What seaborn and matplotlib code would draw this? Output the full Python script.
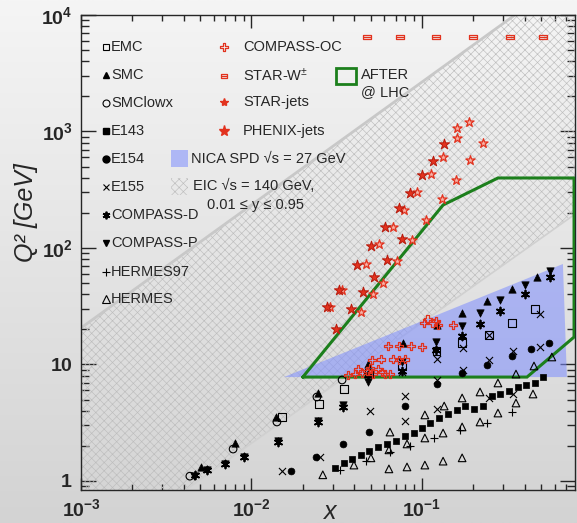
import numpy as np
import matplotlib
matplotlib.use("Agg")
import matplotlib.pyplot as plt
import seaborn as sns
from matplotlib.patches import Polygon, Rectangle
from matplotlib.path import Path
from matplotlib.colors import LinearSegmentedColormap
from matplotlib.ticker import LogLocator, FuncFormatter, NullFormatter

# ---------------- kinematic coverage data (x, Q^2 in GeV^2) ----------------
emc_x = [0.0151, 0.0249, 0.0349, 0.0489, 0.0764, 0.122, 0.172, 0.247, 0.337, 0.461]
emc_q2 = [3.54, 4.58, 6.16, 8.46, 9.71, 13.1, 15.3, 17.9, 22.7, 29.9]

smc_x = [0.00506, 0.00800, 0.0139, 0.0245, 0.0482, 0.0777, 0.122, 0.172, 0.240, 0.337, 0.472]
smc_q2 = [1.32, 2.12, 3.54, 5.69, 10.1, 15.3, 21.8, 27.7, 35.1, 44.5, 56.4]

smclowx_x = [0.00435, 0.00780, 0.0141, 0.0242, 0.0340]
smclowx_q2 = [1.10, 1.88, 3.21, 5.26, 7.36]

e143_x = [0.0309, 0.0349, 0.0388, 0.0438, 0.0489, 0.0552, 0.0624, 0.0705, 0.0794,
          0.0897, 0.100, 0.111, 0.126, 0.142, 0.160, 0.179, 0.202, 0.228, 0.258,
          0.287, 0.324, 0.366, 0.407, 0.461, 0.513]
e143_q2 = [1.29, 1.43, 1.55, 1.67, 1.81, 1.96, 2.08, 2.20, 2.43, 2.58, 2.85, 3.15,
           3.47, 3.76, 4.07, 4.40, 4.15, 4.40, 5.37, 5.58, 5.92, 6.41, 6.67, 6.94, 7.81]

e154_x = [0.0171, 0.0239, 0.0344, 0.0489, 0.0794, 0.122, 0.172, 0.240, 0.337, 0.436, 0.556]
e154_q2 = [1.22, 1.61, 2.08, 2.63, 4.40, 6.80, 8.46, 9.91, 11.8, 13.6, 15.3]

e155_x = [0.0151, 0.0252, 0.0495, 0.0794, 0.0794, 0.122, 0.122, 0.122, 0.175, 0.175,
          0.247, 0.247, 0.247, 0.342, 0.342, 0.492, 0.492, 0.0764]
e155_q2 = [1.22, 1.61, 3.99, 5.37, 3.27, 4.15, 7.36, 11.1, 8.97, 13.9,
           5.16, 10.9, 17.9, 5.58, 13.1, 14.1, 27.1, 8.62]

compass_d_x = [0.00466, 0.00548, 0.00700, 0.00904, 0.0143, 0.0245, 0.0344, 0.0482,
               0.0764, 0.121, 0.172, 0.219, 0.287, 0.402, 0.562]
compass_d_q2 = [1.13, 1.24, 1.40, 1.61, 2.16, 3.21, 4.32, 8.12, 8.80, 13.3, 17.6,
                22.3, 28.8, 40.3, 56.4]

compass_p_x = [0.00460, 0.00548, 0.00700, 0.00904, 0.0143, 0.0245, 0.0344, 0.0482,
               0.0764, 0.121, 0.172, 0.219, 0.287, 0.402, 0.562]
compass_p_q2 = [1.10, 1.24, 1.40, 1.61, 2.20, 3.27, 4.49, 7.08, 10.5, 15.6, 21.4,
                27.7, 35.8, 48.1, 63.5]

hermes97_x = [0.0330, 0.0470, 0.0649, 0.0851, 0.117, 0.167, 0.240, 0.337]
hermes97_q2 = [1.24, 1.48, 1.77, 2.00, 2.34, 2.74, 3.15, 3.91]

hermes_x = [0.0262, 0.0399, 0.0502, 0.0640, 0.0640, 0.0649, 0.0817, 0.0817, 0.104,
            0.104, 0.104, 0.133, 0.133, 0.135, 0.172, 0.172, 0.172, 0.219, 0.219,
            0.279, 0.279, 0.356, 0.356, 0.448, 0.454, 0.578]
hermes_q2 = [1.13, 1.37, 1.58, 1.27, 1.85, 2.63, 1.32, 2.08, 1.37, 2.34, 3.69, 1.48,
             2.58, 4.40, 1.58, 2.91, 5.16, 3.21, 5.81, 3.83, 6.94, 4.67, 8.28, 5.58,
             9.71, 11.6]

compass_oc_x = [0.0368, 0.0405, 0.0421, 0.0445, 0.0476, 0.0495, 0.0516, 0.0552, 0.0582,
                0.0607, 0.0649, 0.0509, 0.0575, 0.0676, 0.0733, 0.0794, 0.0632, 0.0733,
                0.0861, 0.100, 0.103, 0.108, 0.115, 0.121, 0.124, 0.152]
compass_oc_q2 = [8.12, 8.29, 9.15, 8.46, 8.80, 9.33, 8.29, 9.15, 8.62, 8.29, 8.29, 10.9,
                 11.1, 11.1, 10.9, 11.1, 14.4, 14.4, 14.4, 14.1, 22.7, 24.6, 22.7, 23.6,
                 21.8, 21.8]

star_w_x = [0.0475, 0.0743, 0.121, 0.199, 0.328, 0.513]
star_w_q2 = [6464, 6464, 6464, 6464, 6464, 6464]

star_jets_x = [0.116, 0.100, 0.0851, 0.0733, 0.0607, 0.0763, 0.0502, 0.0624, 0.0416,
               0.0523, 0.0326, 0.0451, 0.0277, 0.0384, 0.0313, 0.135]
star_jets_q2 = [558, 423, 297, 220, 151, 119, 104, 78.9, 71.5, 56.4, 43.6, 41.9, 31.2,
                29.9, 20.2, 781]

phenix_jets_x = [0.189, 0.160, 0.160, 0.228, 0.133, 0.191, 0.113, 0.158, 0.0935, 0.131,
                 0.0784, 0.106, 0.0676, 0.0873, 0.0560, 0.0713, 0.0470, 0.0591, 0.0516,
                 0.0439, 0.0340, 0.0289]
phenix_jets_q2 = [1207, 1072, 880, 797, 604, 569, 432, 383, 303, 263, 212, 174, 151, 117,
                  108, 77.3, 72.9, 50.1, 40.3, 28.2, 43.6, 31.2]

# EIC band (sqrt(s)=140 GeV, 0.01 <= y <= 0.95): edges in (x, Q^2)
eic_upper_x = [1e-3, 0.351]
eic_upper_q2 = [20.6, 1e4]
eic_lower_x = [0.0041, 0.79]
eic_lower_q2 = [0.837, 195]

# NICA SPD (sqrt(s)=27 GeV) coverage
nica_x = [0.0155, 0.671, 0.708]
nica_q2 = [7.8, 72.9, 7.8]

# AFTER@LHC coverage
after_x = [0.0200, 0.133, 0.279, 0.78, 0.78, 0.413, 0.0200]
after_q2 = [7.8, 234, 399, 399, 17.2, 7.8, 7.8]

x_range = (1e-3, 0.79)
q2_range = (0.837, 1e4)

# ---------------- style ----------------
sns.set_style("ticks")
plt.rcParams["font.family"] = ["Liberation Sans", "DejaVu Sans"]
plt.rcParams["mathtext.fontset"] = "custom"
plt.rcParams["mathtext.rm"] = "Liberation Sans"
plt.rcParams["mathtext.it"] = "Liberation Sans:italic"
plt.rcParams["mathtext.bf"] = "Liberation Sans:bold"
plt.rcParams["hatch.linewidth"] = 0.45
plt.rcParams["axes.linewidth"] = 1.0

RED = "#e2321e"
GREEN = "#1c7f1c"
HATCH_GRAY = "#bdbdbd"

fig = plt.figure(figsize=(5.77, 5.23), dpi=100)

# soft grey gradient behind everything
bg = fig.add_axes([0, 0, 1, 1], zorder=-10)
grad = np.linspace(0, 1, 256).reshape(-1, 1)
bg_cmap = LinearSegmentedColormap.from_list("bg", ["#f5f5f5", "#d3d3d3"])
bg.imshow(grad, aspect="auto", cmap=bg_cmap, extent=[0, 1, 0, 1], origin="upper")
bg.set_axis_off()

ax = fig.add_axes([81 / 577, 1 - 490 / 523, 494 / 577, 475 / 523])
ax.set_facecolor("none")
ax.set_xscale("log")
ax.set_yscale("log")
ax.set_xlim(*x_range)
ax.set_ylim(*q2_range)

# EIC hatched band
band = Polygon(
    [(x_range[0], q2_range[0]), (eic_upper_x[0], eic_upper_q2[0]),
     (eic_upper_x[1], eic_upper_q2[1]), (x_range[1], q2_range[1]),
     (eic_lower_x[1], eic_lower_q2[1]), (eic_lower_x[0], eic_lower_q2[0])],
    closed=True, facecolor="none", edgecolor=HATCH_GRAY, hatch="xxxx",
    linewidth=0, zorder=1)
ax.add_patch(band)
ax.plot(eic_upper_x, eic_upper_q2, color="#c8c8c8", lw=2.0, zorder=1.1)
ax.plot(eic_lower_x, eic_lower_q2, color="#d0d0d0", lw=1.2, zorder=1.1)

# NICA SPD region
ax.add_patch(Polygon(list(zip(nica_x, nica_q2)), closed=True, facecolor="#7d8dff",
                     alpha=0.55, linewidth=0, zorder=2))

# AFTER@LHC outline
ax.plot(after_x, after_q2, color=GREEN, lw=2.2, zorder=3, solid_joinstyle="miter")

# custom markers
oc = 0.33
open_cross = Path([(-oc, 1), (oc, 1), (oc, oc), (1, oc), (1, -oc), (oc, -oc), (oc, -1),
                   (-oc, -1), (-oc, -oc), (-1, -oc), (-1, oc), (-oc, oc), (-oc, 1)])
w_box = Path([(-1, -0.6), (1, -0.6), (1, 0.6), (-1, 0.6), (-1, -0.6), (-1, 0.0), (1, 0.0)],
             [Path.MOVETO, Path.LINETO, Path.LINETO, Path.LINETO, Path.CLOSEPOLY,
              Path.MOVETO, Path.LINETO])
asterisk = (6, 2, 0)


def pts(xs, ys, **kw):
    sns.scatterplot(x=xs, y=ys, ax=ax, legend=False, **kw)


# fixed-target DIS experiments
pts(e143_x, e143_q2, marker="s", s=24, color="black", edgecolor="black", linewidth=0.5, zorder=5)
pts(hermes_x, hermes_q2, marker="^", s=30, facecolor="none", edgecolor="black", linewidth=0.8, zorder=5)
pts(hermes97_x, hermes97_q2, marker="+", s=30, color="black", linewidth=0.8, zorder=5)
pts(e155_x, e155_q2, marker="x", s=26, color="black", linewidth=0.8, zorder=5)
pts(e154_x, e154_q2, marker="o", s=24, color="black", edgecolor="black", linewidth=0.5, zorder=5)
pts(emc_x, emc_q2, marker="s", s=30, facecolor="none", edgecolor="black", linewidth=0.8, zorder=5)
pts(smclowx_x, smclowx_q2, marker="o", s=30, facecolor="none", edgecolor="black", linewidth=0.8, zorder=5)
pts(smc_x, smc_q2, marker="^", s=28, color="black", edgecolor="black", linewidth=0.5, zorder=5)
pts(compass_p_x, compass_p_q2, marker="v", s=28, color="black", edgecolor="black", linewidth=0.5, zorder=5)
pts(compass_d_x, compass_d_q2, marker=asterisk, s=32, color="black", linewidth=1.3, zorder=5)

# polarized pp / SIDIS
pts(compass_oc_x, compass_oc_q2, marker=open_cross, s=34, facecolor="none", edgecolor=RED, linewidth=0.9, zorder=6)
pts(star_w_x, star_w_q2, marker=w_box, s=30, facecolor="none", edgecolor=RED, linewidth=0.9, zorder=6)
pts(phenix_jets_x, phenix_jets_q2, marker="*", s=48, facecolor="#f7b3a8", edgecolor=RED, linewidth=0.9, zorder=6)
pts(star_jets_x, star_jets_q2, marker="*", s=60, color=RED, edgecolor="#b81a0c", linewidth=0.7, zorder=6)

# ---------------- axes decoration ----------------
def x_fmt(v, _):
    return r"$\mathbf{10^{%d}}$" % int(round(np.log10(v)))


def y_fmt(v, _):
    e = int(round(np.log10(v)))
    if e == 0:
        return r"$\mathbf{1}$"
    if e == 1:
        return r"$\mathbf{10}$"
    return r"$\mathbf{10^{%d}}$" % e


for axis, fmt in ((ax.xaxis, x_fmt), (ax.yaxis, y_fmt)):
    axis.set_major_locator(LogLocator(base=10, numticks=12))
    axis.set_minor_locator(LogLocator(base=10, subs=np.arange(2, 10), numticks=40))
    axis.set_major_formatter(FuncFormatter(fmt))
    axis.set_minor_formatter(NullFormatter())

ax.tick_params(axis="x", which="major", direction="in", length=9, width=1.0,
               top=True, labelsize=14, pad=6)
ax.tick_params(axis="x", which="minor", direction="in", length=4.5, width=1.0, top=True)
ax.tick_params(axis="y", which="major", direction="in", length=11, width=1.0,
               right=True, labelsize=14, pad=6)
ax.tick_params(axis="y", which="minor", direction="in", length=5.5, width=1.0, right=True)

ax.set_xlabel("x", fontsize=18, style="italic", va="center")
ax.xaxis.set_label_coords(0.504, -0.046)
ax.set_ylabel("Q² [GeV]", fontsize=18, style="italic", va="center")
ax.yaxis.set_label_coords(-0.112, 0.585)

# ---------------- legend block ----------------
T = ax.transAxes
FS = 10.5
left_items = [
    ("EMC", dict(marker="s", mfc="none", mec="black", ms=5, mew=0.8)),
    ("SMC", dict(marker="^", mfc="black", mec="black", ms=5)),
    ("SMClowx", dict(marker="o", mfc="none", mec="black", ms=5, mew=0.8)),
    ("E143", dict(marker="s", mfc="black", mec="black", ms=5)),
    ("E154", dict(marker="o", mfc="black", mec="black", ms=5)),
    ("E155", dict(marker="x", mec="black", ms=5, mew=0.8)),
    ("COMPASS-D", dict(marker=asterisk, mec="black", ms=5.5, mew=1.3)),
    ("COMPASS-P", dict(marker="v", mfc="black", mec="black", ms=5)),
    ("HERMES97", dict(marker="+", mec="black", ms=5.5, mew=0.8)),
    ("HERMES", dict(marker="^", mfc="none", mec="black", ms=5.5, mew=0.8)),
]
left_y = [0.9326, 0.8737, 0.8147, 0.7558, 0.6968, 0.6379, 0.5789, 0.5200, 0.4589, 0.4021]
for (label, mk), yy in zip(left_items, left_y):
    ax.plot([0.0506], [yy], transform=T, clip_on=False, ls="none", zorder=8, **mk)
    ax.text(0.0607, yy, label, transform=T, fontsize=FS, va="center", ha="left", zorder=8)

right_items = [
    ("COMPASS-OC", dict(marker=open_cross, mfc="none", mec=RED, ms=5.5, mew=0.9)),
    ("STAR-W$^{\\pm}$", dict(marker=w_box, mfc="none", mec=RED, ms=5, mew=0.9)),
    ("STAR-jets", dict(marker="*", mfc=RED, mec=RED, ms=6)),
    ("PHENIX-jets", dict(marker="*", mfc=RED, mec=RED, ms=8)),
]
right_y = [0.9326, 0.8716, 0.8168, 0.7558]
for (label, mk), yy in zip(right_items, right_y):
    ax.plot([0.2895], [yy], transform=T, clip_on=False, ls="none", zorder=8, **mk)
    ax.text(0.3279, yy, label, transform=T, fontsize=FS, va="center", ha="left", zorder=8)

ax.add_patch(Rectangle((0.1822, 0.680), 0.0344, 0.0358, transform=T, facecolor="#7d8dff",
                       alpha=0.55, linewidth=0, zorder=8))
ax.text(0.2227, 0.6968, "NICA SPD √s = 27 GeV", transform=T, fontsize=FS,
        va="center", ha="left", zorder=8)
ax.add_patch(Rectangle((0.1822, 0.621), 0.0344, 0.0358, transform=T, facecolor="none",
                       edgecolor=HATCH_GRAY, hatch="xxxx", linewidth=0, zorder=8))
ax.text(0.2267, 0.640, "EIC √s = 140 GeV,", transform=T, fontsize=FS,
        va="center", ha="left", zorder=8)
ax.text(0.2551, 0.600, "0.01 ≤ y ≤ 0.95", transform=T, fontsize=FS,
        va="center", ha="left", zorder=8)

ax.add_patch(Rectangle((0.516, 0.8547), 0.0405, 0.0337, transform=T, facecolor="none",
                       edgecolor=GREEN, linewidth=2.0, zorder=8))
ax.text(0.567, 0.8737, "AFTER", transform=T, fontsize=FS, va="center", ha="left", zorder=8)
ax.text(0.567, 0.838, "@ LHC", transform=T, fontsize=FS, va="center", ha="left", zorder=8)

fig.savefig("out.png", dpi=100)
